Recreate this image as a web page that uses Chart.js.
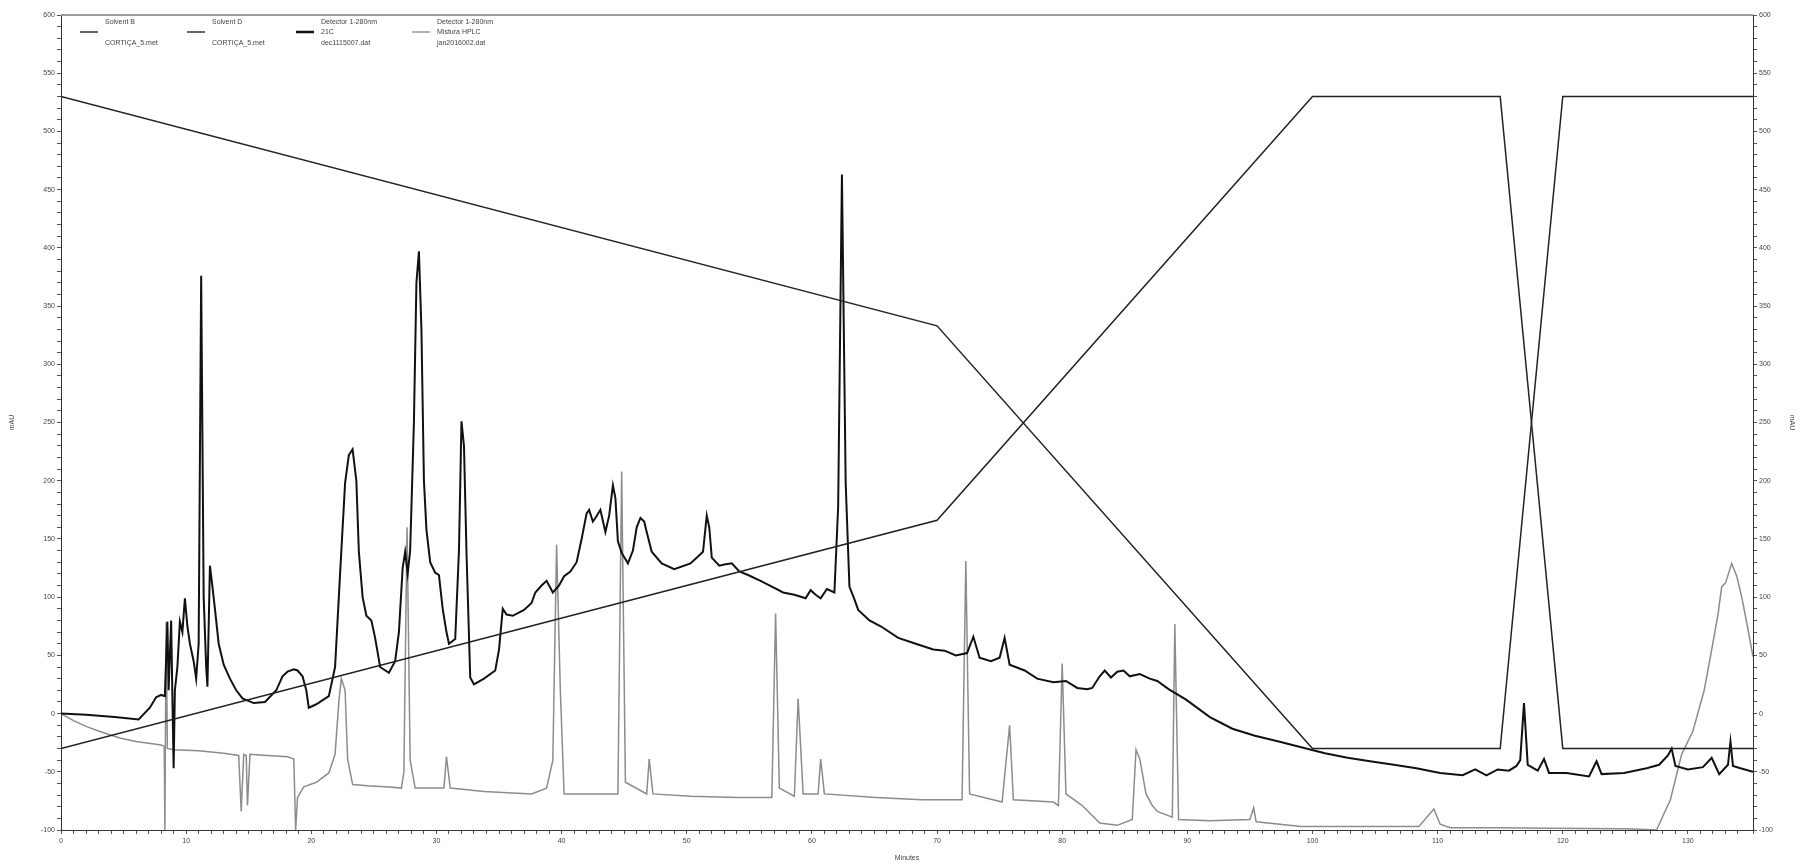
<!DOCTYPE html>
<html>
<head>
<meta charset="utf-8">
<script src="https://cdn.jsdelivr.net/npm/chart.js@4"></script>
<style>
html, body { margin: 0; padding: 0; background: #fff; }
#wrap { width: 1804px; height: 864px; }
</style>
</head>
<body>
<div id="wrap"><canvas id="chart" width="1804" height="864"></canvas></div>
<script>
/* HPLC chromatogram: two detector traces + solvent gradient (B / D). */
const X_MAX = 135.2;
const X_TICK_LABELS = [0, 10, 20, 30, 40, 50, 60, 70, 80, 90, 100, 110, 120, 130];
const Y_TICK_LABELS = [-100, -50, 0, 50, 100, 150, 200, 250, 300, 350, 400, 450, 500, 550, 600];

const solventBTime = [0, 70, 100, 115, 120, 135.2];
const solventBValue = [530, 333, -30, -30, 530, 530];

const solventDTime = [0, 70, 100, 115, 120, 135.2];
const solventDValue = [-30, 166, 530, 530, -30, -30];

// Detector 1-280nm, 21C (dec1115007.dat)
const det21CTime = [
  0, 2, 4.3, 6.2, 7.1, 7.6, 8.0, 8.3, 8.5, 8.6, 8.8, 8.9, 9.0, 9.1, 9.3, 9.5, 9.7, 9.9, 10.1, 10.3,
  10.6, 10.8, 11.0, 11.2, 11.4, 11.6, 11.7, 11.9, 12.1, 12.3, 12.6, 13.0, 13.5, 14.0, 14.5, 15.4,
  16.3, 17.2, 17.7, 18.1, 18.6, 18.9, 19.3, 19.6, 19.8, 20.4, 21.4, 21.9, 22.3, 22.7, 23.0, 23.3,
  23.6, 23.8, 24.1, 24.4, 24.8, 25.1, 25.5, 26.2, 26.7, 27.0, 27.3, 27.5, 27.7, 27.9, 28.2, 28.4,
  28.6, 28.8, 29.0, 29.2, 29.5, 29.9, 30.2, 30.5, 30.8, 31.0, 31.5, 31.8, 32.0, 32.2, 32.4, 32.7,
  33.0, 33.8, 34.7, 35.0, 35.3, 35.6, 36.1, 37.0, 37.6, 37.9, 38.4, 38.8, 39.3, 39.8, 40.2, 40.7,
  41.2, 41.6, 42.0, 42.2, 42.5, 42.7, 43.1, 43.5, 43.8, 44.1, 44.3, 44.5, 44.8, 45.3, 45.7, 46.0,
  46.3, 46.6, 46.8, 47.2, 48.0, 49.0, 50.3, 50.9, 51.3, 51.6, 51.8, 52.0, 52.6, 53.0, 53.6, 54.2,
  54.9, 55.9, 56.8, 57.7, 58.6, 59.5, 59.9, 60.3, 60.7, 61.2, 61.8, 62.1, 62.4, 62.7, 63.0, 63.4,
  63.7, 64.6, 65.5, 66.9, 68.3, 69.7, 70.6, 71.5, 72.4, 72.9, 73.4, 74.3, 75.0, 75.4, 75.8, 77.0,
  78.0, 79.3, 80.3, 81.2, 82.0, 82.4, 83.0, 83.4, 83.9, 84.4, 84.9, 85.4, 86.2, 87.0, 87.6, 88.5,
  89.9, 91.8, 93.6, 95.4, 97.3, 99.1, 101.0, 102.8, 104.6, 106.5, 108.3, 110.2, 112.0, 113.0, 113.9,
  114.8, 115.7, 116.3, 116.6, 116.9, 117.2, 118.0, 118.5, 118.9, 120.3, 122.1, 122.7, 123.1, 124.9,
  126.7, 127.7, 128.4, 128.7, 129.0, 130.0, 131.2, 131.9, 132.5, 133.2, 133.4, 133.6, 134.2, 135.2
];
const det21CValue = [
  0, -1, -3, -5, 5, 14, 16, 15, 79, 20, 80, 15, -47, 20, 40, 79, 70, 99, 75, 60,
  45, 30, 60, 376, 100, 40, 23, 127, 109, 90, 60, 42, 30, 20, 13, 9,
  10, 20, 32, 36, 38, 37, 32, 20, 5, 8, 15, 40, 120, 198, 222, 227,
  200, 139, 100, 84, 80, 65, 40, 35, 45, 70, 125, 139, 120, 140, 250, 370,
  397, 330, 200, 158, 130, 121, 119, 90, 70, 60, 64, 140, 251, 230, 139, 31,
  25, 30, 37, 55, 90, 85, 84, 89, 95, 104, 110, 114, 104, 110, 118, 122,
  130, 150, 172, 175, 165, 168, 175, 156, 170, 196, 185, 148, 138, 129, 140, 160,
  168, 165, 156, 139, 129, 124, 129, 135, 139, 170, 160, 134, 127, 128, 129, 122,
  119, 114, 109, 104, 102, 99, 106, 102, 99, 107, 104, 178, 463, 198, 109, 98,
  89, 80, 75, 65, 60, 55, 54, 50, 52, 66, 48, 45, 48, 65, 42, 37,
  30, 27, 28, 22, 21, 22, 32, 37, 31, 36, 37, 32, 34, 30, 28, 21,
  12, -3, -13, -19, -24, -29, -34, -38, -41, -44, -47, -51, -53, -48, -53,
  -48, -49, -45, -40, 9, -44, -49, -39, -51, -51, -54, -41, -52, -51,
  -47, -44, -36, -30, -45, -48, -46, -38, -52, -44, -24, -45, -47, -50
];

// Detector 1-280nm, Mistura HPLC (jan2016002.dat)
const misturaTime = [
  0, 1, 2, 3, 4.7, 6, 8.0, 8.25, 8.3, 8.4, 8.5, 9, 11, 13, 14.2, 14.4, 14.6, 14.8, 14.9, 15.1,
  16.5, 18.1, 18.6, 18.75, 18.9, 19.4, 20.4, 21.4, 21.9, 22.2, 22.4, 22.7, 22.9, 23.3, 24.5, 26.2,
  27.2, 27.4, 27.65, 27.9, 28.3, 30.6, 30.8, 31.1, 33.8, 37.6, 38.8, 39.3, 39.6, 39.9, 40.2, 41.0,
  44.5, 44.8, 45.1, 46.8, 47.0, 47.3, 50.3, 54.0, 56.8, 57.1, 57.4, 58.6, 58.9, 59.3, 60.5, 60.7,
  61.0, 65.1, 68.8, 72.0, 72.3, 72.6, 75.2, 75.8, 76.1, 79.3, 79.7, 80.0, 80.3, 81.6, 83.0, 84.4,
  85.6, 85.9, 86.2, 86.7, 87.2, 87.6, 88.8, 89.0, 89.3, 91.8, 95.0, 95.3, 95.5, 99.1, 103.7, 108.5,
  109.7, 110.2, 111.0, 115.0, 119.0, 124.9, 126.7, 127.5, 128.0, 128.6, 129.5, 130.4, 131.3, 131.9,
  132.4, 132.7, 133.0, 133.5, 133.9, 134.3, 134.7, 135.2
];
const misturaValue = [
  0, -6, -11, -15, -21, -24, -27, -28, -100, 78, -30, -31, -32, -34, -36, -84, -35, -36, -79, -35,
  -36, -37, -39, -100, -72, -63, -59, -51, -35, 10, 30, 20, -39, -61, -62, -63,
  -64, -50, 160, -40, -64, -64, -37, -64, -67, -69, -64, -40, 145, 20, -69, -69,
  -69, 208, -59, -69, -39, -69, -71, -72, -72, 86, -64, -71, 13, -69, -69, -39,
  -69, -72, -74, -74, 131, -69, -76, -10, -74, -76, -79, 43, -69, -79, -94, -96,
  -91, -31, -39, -69, -79, -84, -89, 77, -91, -92, -91, -81, -93, -97, -97, -97,
  -82, -95, -98, -98, -98.5, -99, -99.5, -100, -88, -74, -35, -15, 20, 55,
  85, 109, 112, 129, 118, 100, 78, 49
];

const LEGEND_ITEMS = [
  { lines: ["Solvent B", "", "CORTIÇA_5.met"], color: "#333", width: 1.5 },
  { lines: ["Solvent D", "", "CORTIÇA_5.met"], color: "#333", width: 1.5 },
  { lines: ["Detector 1-280nm", "21C", "dec1115007.dat"], color: "#111", width: 2.5 },
  { lines: ["Detector 1-280nm", "Mistura HPLC", "jan2016002.dat"], color: "#999", width: 1.5 },
];

const FONT = "'Liberation Sans', Arial, sans-serif";

function toPoints(times, values) {
  return times.map((t, i) => ({ x: t, y: values[i] }));
}

function lineSet(label, times, values, color, width, order) {
  return {
    label,
    data: toPoints(times, values),
    borderColor: color,
    borderWidth: width,
    pointRadius: 0,
    tension: 0,
    fill: false,
    order,
  };
}

// top frame line + the four-column key in the top left corner
const frameAndKey = {
  id: "frameAndKey",
  afterDraw(chart) {
    const { ctx, chartArea: a } = chart;
    ctx.save();
    ctx.strokeStyle = "#9a9a9a";
    ctx.lineWidth = 2;
    ctx.beginPath();
    ctx.moveTo(a.left, a.top);
    ctx.lineTo(a.right, a.top);
    ctx.stroke();

    const lineX = [80, 187, 296, 412];
    ctx.font = `7px ${FONT}`;
    ctx.fillStyle = "#444";
    ctx.textBaseline = "middle";
    LEGEND_ITEMS.forEach((item, i) => {
      const x0 = lineX[i];
      ctx.strokeStyle = item.color;
      ctx.lineWidth = item.width;
      ctx.beginPath();
      ctx.moveTo(x0, 32);
      ctx.lineTo(x0 + 18, 32);
      ctx.stroke();
      item.lines.forEach((txt, j) => {
        if (txt) ctx.fillText(txt, x0 + 25, 22 + j * 10.5);
      });
    });
    ctx.restore();
  },
};

const tickFont = { family: FONT, size: 7 };

function yScale(position, width) {
  return {
    type: "linear",
    position,
    min: -100,
    max: 600,
    border: { color: "#333", width: 1 },
    grid: { drawOnChartArea: false, tickLength: 4, tickColor: "#555" },
    ticks: {
      stepSize: 10,
      autoSkip: false,
      font: tickFont,
      color: "#444",
      padding: 2,
      callback: (v) => (Y_TICK_LABELS.includes(v) ? String(v) : ""),
    },
    title: { display: true, text: "mAU", font: tickFont, color: "#444", padding: { top: 8, bottom: 0 } },
    afterFit(scale) {
      scale.width = width;
    },
  };
}

new Chart(document.getElementById("chart"), {
  type: "line",
  data: {
    datasets: [
      lineSet("Solvent B", solventBTime, solventBValue, "#222", 1.5, 0),
      lineSet("Solvent D", solventDTime, solventDValue, "#222", 1.5, 1),
      lineSet("21C", det21CTime, det21CValue, "#111", 2, 2),
      lineSet("Mistura HPLC", misturaTime, misturaValue, "#8c8c8c", 1.5, 3),
    ],
  },
  options: {
    responsive: false,
    animation: false,
    layout: { padding: { top: 15, left: 0, right: 0, bottom: 0 } },
    plugins: { legend: { display: false }, tooltip: { enabled: false } },
    scales: {
      x: {
        type: "linear",
        min: 0,
        max: X_MAX,
        border: { color: "#333", width: 1 },
        grid: { drawOnChartArea: false, tickLength: 4, tickColor: "#555" },
        ticks: {
          stepSize: 1,
          autoSkip: false,
          maxRotation: 0,
          font: tickFont,
          color: "#444",
          padding: 3,
          callback: (v) => (X_TICK_LABELS.includes(v) ? String(v) : ""),
        },
        title: { display: true, text: "Minutes", font: tickFont, color: "#444", padding: { top: 4, bottom: 2 } },
        afterFit(scale) {
          scale.height = 34;
        },
      },
      y: yScale("left", 61),
      y2: yScale("right", 51),
    },
  },
  plugins: [frameAndKey],
});
</script>
</body>
</html>
